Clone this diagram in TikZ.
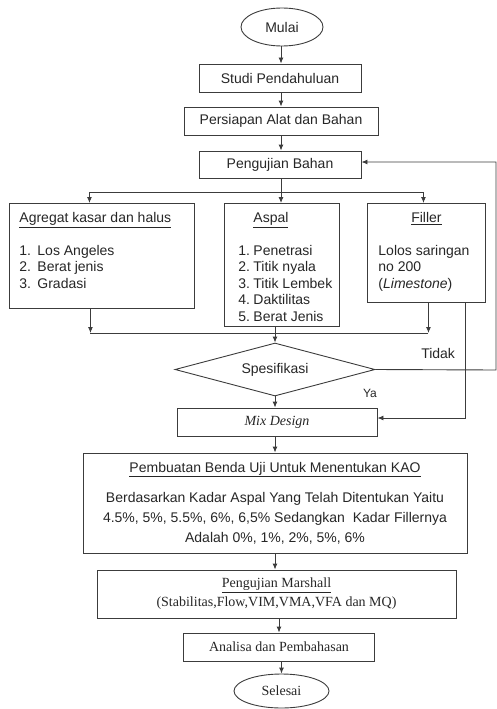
\documentclass[tikz,border=0pt]{standalone}
\usepackage{fontspec}
\setmainfont{Liberation Sans}
\newfontfamily\hurufserif{Liberation Serif}
\usetikzlibrary{arrows.meta, shapes.geometric, calc}
\definecolor{garis}{RGB}{60,60,60}
\newcommand{\isikotak}[3]{\parbox[t][#2][t]{#1}{#3}}
\tikzset{
  proses/.style   = {draw=garis, line width=0.9pt, minimum height=28pt,
                     inner sep=2pt, align=center},
  terminal/.style = {ellipse, draw=garis, line width=0.9pt, inner sep=0pt},
  kotakisi/.style = {draw=garis, line width=0.9pt, anchor=north west,
                     inner xsep=10pt, inner ysep=9pt},
  cek/.style      = {diamond, draw=garis, line width=0.9pt, aspect=3.77,
                     minimum width=200pt, minimum height=53pt, inner sep=1pt},
  arrow/.style    = {-{Latex[length=6pt, width=5pt]}, line width=0.9pt, color=garis},
  garisan/.style  = {line width=0.9pt, color=garis},
}

\begin{document}
\begin{tikzpicture}[x=1pt, y=-1pt,
    every node/.style={font=\fontsize{14}{16.5}\selectfont, text=black!85}]
  \useasboundingbox (0,0) rectangle (497,709);

  \node[terminal, minimum width=82pt, minimum height=38pt] (mulai) at (282,27) {Mulai};
  \node[proses, minimum width=162pt] (studi) at (280,78) {Studi Pendahuluan};
  \node[proses, minimum width=194pt] (persiapan) at (281,121) {Persiapan Alat dan Bahan};
  \node[proses, minimum width=162pt, minimum height=27pt] (pengujian) at (280,164.5) {Pengujian Bahan};

  \node[kotakisi] (agregat) at (9,203) {\isikotak{165pt}{87pt}{%
    \underline{Agregat kasar dan halus}\\[16pt]
    \makebox[18pt][l]{1.}Los Angeles\\
    \makebox[18pt][l]{2.}Berat jenis\\
    \makebox[18pt][l]{3.}Gradasi}};
  \node[kotakisi, inner xsep=6pt] (aspal) at (224,203) {\isikotak{103pt}{105pt}{%
    \hspace*{23pt}\underline{Aspal}\\[16pt]
    \hspace*{8pt}\makebox[15pt][l]{1.}Penetrasi\\
    \hspace*{8pt}\makebox[15pt][l]{2.}Titik nyala\\
    \hspace*{8pt}\makebox[15pt][l]{3.}Titik Lembek\\
    \hspace*{8pt}\makebox[15pt][l]{4.}Daktilitas\\
    \hspace*{8pt}\makebox[15pt][l]{5.}Berat Jenis}};
  \node[kotakisi, inner xsep=11pt] (filler) at (367,203) {\isikotak{96pt}{81pt}{%
    \makebox[\linewidth]{\underline{Filler}}\\[16pt]
    Lolos saringan\\
    no 200\\
    (\textit{Limestone})}};

  \node[cek] (spesifikasi) at (275,369.5) {Spesifikasi};
  \node[proses, minimum width=200pt,
    font=\hurufserif\fontsize{14}{16.5}\selectfont\itshape] (mixdesign) at (277,422) {Mix Design};
  \node[proses, minimum width=384pt, minimum height=100pt,
    font=\fontsize{14}{20}\selectfont] (pembuatan) at (275,503)
    {\underline{Pembuatan Benda Uji Untuk Menentukan KAO}\\[10pt]
     Berdasarkan Kadar Aspal Yang Telah Ditentukan Yaitu\\
     4.5\%, 5\%, 5.5\%, 6\%, 6,5\% Sedangkan\ \ Kadar Fillernya\\
     Adalah 0\%, 1\%, 2\%, 5\%, 6\%};
  \node[proses, minimum width=359pt, minimum height=48pt,
    font=\hurufserif\fontsize{14}{19}\selectfont] (marshall) at (276.5,594)
    {\underline{Pengujian Marshall}\\(Stabilitas,Flow,VIM,VMA,VFA dan MQ)};
  \node[proses, minimum width=191pt,
    font=\hurufserif\fontsize{14}{16.5}\selectfont] (analisa) at (279,647) {Analisa dan Pembahasan};
  \node[terminal, minimum width=95pt, minimum height=34pt,
    font=\hurufserif\fontsize{14}{16.5}\selectfont] (selesai) at (281.5,691) {Selesai};

  \coordinate (cabang) at (281,192);
  \coordinate (gabung) at (275,333);
  \coordinate (kanan) at (496,370);

  \draw[arrow] (mulai.south -| cabang) -- (cabang |- studi.north);
  \draw[arrow] (studi.south -| cabang) -- (cabang |- persiapan.north);
  \draw[arrow] (persiapan.south -| cabang) -- (cabang |- pengujian.north);
  \draw[arrow] (pengujian.south -| cabang) -- (cabang |- aspal.north);
  \draw[garisan] ([xshift=-12.5pt]agregat.north |- cabang) -- ([xshift=-3pt]filler.north |- cabang);
  \draw[arrow] ([xshift=-12.5pt]agregat.north |- cabang) -- ([xshift=-12.5pt]agregat.north);
  \draw[arrow] ([xshift=-3pt]filler.north |- cabang) -- ([xshift=-3pt]filler.north);

  \draw[arrow] ([xshift=-11.5pt]agregat.south) -- ([xshift=-11.5pt]agregat.south |- gabung);
  \draw[arrow] ([xshift=2pt]filler.south) -- ([xshift=2pt]filler.south |- gabung);
  \draw[garisan] ([xshift=-11.5pt]agregat.south |- gabung) -- ([xshift=2pt]filler.south |- gabung);
  \draw[arrow] (aspal.south -| gabung) -- (spesifikasi.north);

  \draw[arrow] (spesifikasi.east) -- node[pos=0.52, above=7pt]{Tidak} (kanan)
    |- ([yshift=2.5pt]pengujian.east);
  \draw[arrow] (spesifikasi.south) -- (spesifikasi.south |- mixdesign.north);
  \node[font=\fontsize{12}{14}\selectfont] (ya) at (370,393) {Ya};
  \draw[arrow] ([xshift=39pt]filler.south) |- ([yshift=4pt]mixdesign.east);

  \draw[arrow] (mixdesign.south -| gabung) -- (gabung |- pembuatan.north);
  \draw[arrow] (pembuatan.south) -- (pembuatan.south |- marshall.north);
  \draw[arrow] (marshall.south -| analisa) -- (analisa.north);
  \draw[arrow] (analisa.south -| selesai) -- (selesai.north);
\end{tikzpicture}
\end{document}
